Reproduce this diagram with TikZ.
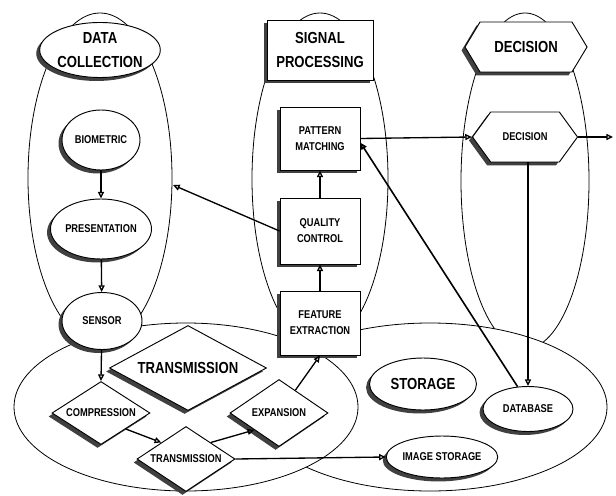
\documentclass[tikz,border=0pt]{standalone}
\usepackage{fontspec}
\newfontfamily\labfont[FakeStretch=0.82]{Liberation Sans}
\usetikzlibrary{shapes.geometric,shapes.symbols,arrows.meta,calc}
\begin{document}
\begin{tikzpicture}[x=0.75pt,y=-0.75pt,
  bigel/.style={draw, line width=0.6pt, fill=white},
  shd/.style={preaction={draw=none, fill=black!75, transform canvas={xshift=-2.6pt, yshift=-2.6pt}}},
  smalltxt/.style={font=\labfont\fontsize{8.5}{12}\selectfont\bfseries, align=center},
  bigtxt/.style={font=\labfont\fontsize{12}{18}\selectfont\bfseries, align=center},
  oval/.style={ellipse, draw, line width=0.7pt, fill=white, shd, inner sep=0pt},
  boxn/.style={rectangle, draw, line width=0.7pt, fill=white, shd, inner sep=0pt},
  dia/.style={diamond, draw, line width=0.7pt, fill=white, shd, inner sep=0pt, aspect=1.6},
  hexa/.style={signal, signal to=east and west, draw, line width=0.7pt, fill=white, shd, inner sep=0pt},
  arr/.style={line width=1pt, -{Triangle[open, length=5pt, width=4.5pt]}}
]
\useasboundingbox (0,0) rectangle (616,495);
% containers
\draw[bigel] (100,178) ellipse [x radius=54pt, y radius=123.75pt];
\draw[bigel] (320,179) ellipse [x radius=51pt, y radius=124.5pt];
\draw[bigel] (525,181) ellipse [x radius=48pt, y radius=126pt];
\draw[bigel] (430,407) ellipse [x radius=132.75pt, y radius=63pt];
\draw[bigel] (186,407) ellipse [x radius=129pt, y radius=63pt];
% data collection column
\node[oval, bigtxt, minimum width=86.25pt, minimum height=41.25pt] (dc) at (100,50) {DATA\\COLLECTION};
\node[oval, smalltxt, minimum width=58.5pt, minimum height=45pt] (bio) at (101,140) {BIOMETRIC};
\node[oval, smalltxt, minimum width=57pt, minimum height=45pt] (pres) at (101,229) {PRESENTATION};
\node[oval, smalltxt, minimum width=60pt, minimum height=42.75pt] (sens) at (102,321) {SENSOR};
% signal processing column
\node[boxn, bigtxt, minimum width=79.5pt, minimum height=45pt] (sp) at (320,50) {SIGNAL\\PROCESSING};
\node[boxn, smalltxt, minimum width=60pt, minimum height=47.25pt] (pm) at (320,138.5) {PATTERN\\MATCHING};
\node[boxn, smalltxt, minimum width=60pt, minimum height=49.5pt] (qc) at (320,231) {QUALITY\\CONTROL};
\node[boxn, smalltxt, minimum width=60pt, minimum height=48pt] (fe) at (320,323) {FEATURE\\EXTRACTION};
% decision column
\node[hexa, bigtxt, minimum width=91.5pt, minimum height=37.5pt, signal pointer angle=118] (dect) at (526,47) {DECISION};
\node[hexa, smalltxt, minimum width=78.75pt, minimum height=37.5pt, signal pointer angle=108] (dec) at (525,137) {DECISION};
% transmission
\node[dia, bigtxt, aspect=1.85, minimum width=117.75pt, minimum height=63.75pt] (tl) at (188,368) {TRANSMISSION};
\node[dia, smalltxt, minimum width=73.5pt, minimum height=47.25pt] (comp) at (101,413) {COMPRESSION};
\node[dia, smalltxt, minimum width=73.5pt, minimum height=48.75pt] (tr) at (186,459) {TRANSMISSION};
\node[dia, smalltxt, minimum width=73.5pt, minimum height=50.25pt] (exp) at (279,413) {EXPANSION};
% storage
\node[oval, bigtxt, minimum width=80.25pt, minimum height=39pt] (st) at (423,384) {STORAGE};
\node[oval, smalltxt, minimum width=67.5pt, minimum height=33.75pt] (db) at (528,409) {DATABASE};
\node[oval, smalltxt, minimum width=71.25pt, minimum height=31.5pt] (img) at (442,457) {IMAGE STORAGE};
% free ends
\coordinate (dcR) at (173,185);
\coordinate (out) at (613,137);
\coordinate (expT) at ($(exp.north)!0.33!(exp.east)$);
% connectors
\draw[arr] (bio) -- (pres);
\draw[arr] (pres) -- (sens);
\draw[arr] (sens) -- (comp.north);
\draw[arr] (comp.south east) -- (tr.north west);
\draw[arr] (tr.north east) -- (exp.south west);
\draw[arr] (expT) -- (fe.south);
\draw[arr] (tr.east) -- (img.west);
\draw[arr] (fe) -- (qc);
\draw[arr] (qc) -- (pm);
\draw[arr] (qc.west) -- (dcR);
\draw[arr] (pm.east) -- (dec.west);
\draw[arr] (dec.east) -- (out);
\draw[arr] (db.north |- dec.south) -- (db.north);
\draw[arr, line width=1.2pt] (db.115) -- (pm.-6);
\end{tikzpicture}
\end{document}
